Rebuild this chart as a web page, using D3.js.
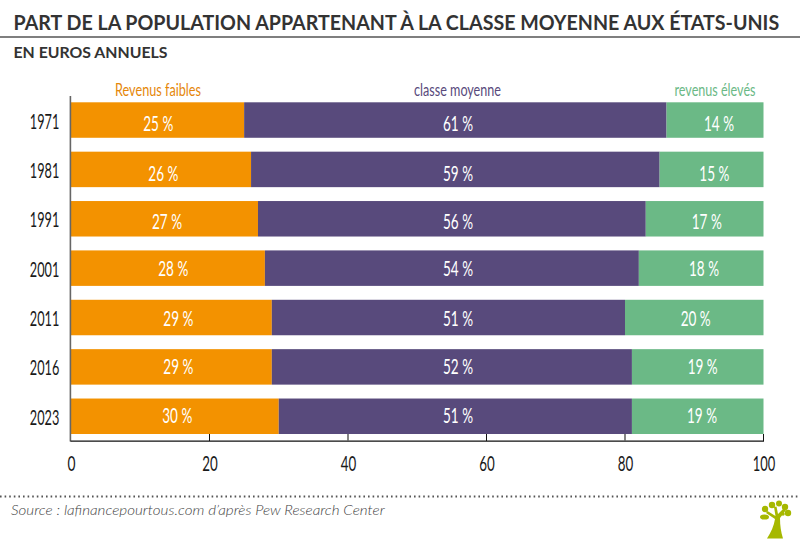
<!DOCTYPE html>
<html><head><meta charset="utf-8">
<script src="https://cdn.jsdelivr.net/npm/d3@7"></script>
<style>html,body{margin:0;padding:0;background:#fff}svg{display:block}text{font-family:"Lato","Liberation Sans",sans-serif}</style>
</head><body><svg id="c" width="800" height="539"></svg>
<script>
const years=["1971","1981","1991","2001","2011","2016","2023"];
const faibles=[25,26,27,28,29,29,30];
const moyenne=[61,59,56,54,51,52,51];
const eleves=[14,15,17,18,20,19,19];
const seriesNames=["Revenus faibles","classe moyenne","revenus élevés"];
const ticks=[0,20,40,60,80,100];
const titleText="PART DE LA POPULATION APPARTENANT À LA CLASSE MOYENNE AUX ÉTATS-UNIS";
const subtitleText="EN EUROS ANNUELS";
const sourceText="Source : lafinancepourtous.com d’après Pew Research Center";

const colors=["#f39200","#584a7c","#6bb986"];
const headColors=["#e5870a","#584a7c","#6bb986"];
const svg=d3.select("#c");
const x=d3.scaleLinear().domain([0,100]).range([71,763.5]);
const y=d3.scaleBand().domain(years).range([102.3,434]).paddingInner(0.2814);

// Draws a text squeezed horizontally to a target width (the reference face is narrow).
function fit(str,px,py,w,size,fill,anchor,opts){
  opts=opts||{};
  const t=svg.append("text").attr("font-size",size).attr("fill",fill).attr("text-anchor",anchor||"middle").text(str);
  if(opts.weight)t.attr("font-weight",opts.weight);
  if(opts.italic)t.attr("font-style","italic");
  const sx=w/t.node().getComputedTextLength();
  t.attr("transform",`translate(${px},${py}) scale(${sx},1)`);
  return t;
}

// header
fit(titleText,13.5,30,766,21.5,"#333","start",{weight:700});
svg.append("line").attr("x1",0).attr("x2",800).attr("y1",37).attr("y2",37).attr("stroke","#555").attr("stroke-width",1.6);
fit(subtitleText,13.5,58,154,16,"#333","start",{weight:700});

// label placement nudges (hand-placed in the reference)
const rowNudge=[3.7,4.1,2.9,0,1,-0.4,-0.8];
const leftNudge=[0.7,2.3,2.5,5.3,6.9,6.9,2.4];
const rightNudge=[4,2.8,2.1,2.8,1.4,5,4.3];
const midLabelX=458;

years.forEach((yr,i)=>{
  const vals=[faibles[i],moyenne[i],eleves[i]];
  let c=0;
  vals.forEach((v,k)=>{
    svg.append("rect").attr("x",x(c)).attr("y",y(yr)).attr("width",x(c+v)-x(c)).attr("height",y.bandwidth()).attr("fill",colors[k]);
    const cx=(x(c)+x(c+v))/2;
    const lx=k===1?midLabelX:cx+(k===0?leftNudge[i]:rightNudge[i]);
    fit(v+" %",lx,y(yr)+y.bandwidth()/2+rowNudge[i]+7.5,30,20.5,"#fff","middle",{weight:400});
    c+=v;
  });
  fit(yr,59.3,y(yr)+y.bandwidth()/2+8.6,29.5,20.5,"#1a1a1a","end");
});

// series headers
[[158,86],[457.5,87],[715,81]].forEach((h,k)=>fit(seriesNames[k],h[0],95.5,h[1],18,headColors[k]));

// axes
svg.append("line").attr("x1",70.4).attr("x2",70.4).attr("y1",96).attr("y2",441.5).attr("stroke","#666").attr("stroke-width",1.6);
svg.append("line").attr("x1",70.5).attr("x2",764).attr("y1",441.2).attr("y2",441.2).attr("stroke","#111").attr("stroke-width",1.2);
ticks.forEach(t=>{
  if(t>0)svg.append("line").attr("x1",x(t)).attr("x2",x(t)).attr("y1",434).attr("y2",441).attr("stroke",(t===40||t===80)?"#666":"#111").attr("stroke-width",(t===40||t===80)?1.6:1);
  const s=String(t);
  fit(s,x(t)+0.5,471,s.length===1?8:s.length===2?15.5:22.5,20.5,"#1a1a1a");
});

// footer
svg.append("line").attr("x1",0).attr("x2",800).attr("y1",496.5).attr("y2",496.5).attr("stroke","#555").attr("stroke-width",2).attr("stroke-dasharray","1.6 3");
fit(sourceText,11,515,374,14.5,"#444","start",{italic:true,weight:300});

// tree logo
const g=svg.append("g").attr("fill","#a6b800").attr("stroke","none");
g.append("path").attr("d","M767 538.5 C771 532 774 526 775 519 L766 513 L767.5 511 L775.5 516 L774 507 L776.5 506.5 L778 514 L784 508 L786 510 L780 518 C780 526 781 532 783 538.5 Z");
g.append("ellipse").attr("cx",764.5).attr("cy",517).attr("rx",4.5).attr("ry",2.6);
[[765,509,3.2],[772,505,3.2],[779,503.5,3],[785,507,3.2],[788,513,3.2],[783,514,1.8]].forEach(d=>g.append("circle").attr("cx",d[0]).attr("cy",d[1]).attr("r",d[2]));
</script></body></html>
